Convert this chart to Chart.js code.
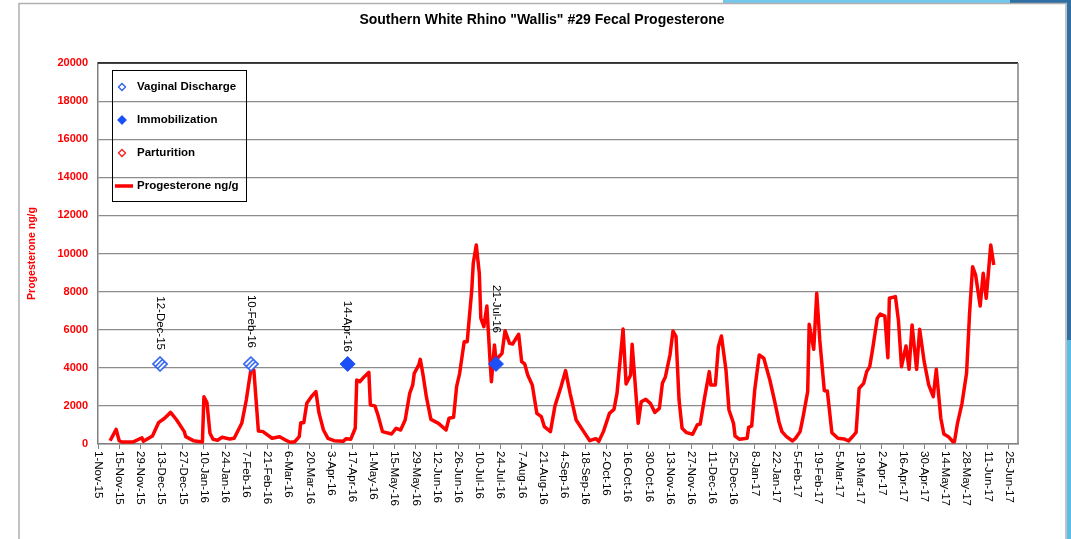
<!DOCTYPE html>
<html>
<head>
<meta charset="utf-8">
<script src="https://cdn.jsdelivr.net/npm/chart.js@4/dist/chart.umd.min.js"></script>
<style>
  body { margin: 0; background: #fff; }
  canvas { display: block; }
</style>
</head>
<body>
<canvas id="rhino" width="1071" height="539"></canvas>
<script>
// days counted from 1-Nov-15
const sampleDay = [
  8, 12, 14, 16, 23, 29, 30, 36, 40, 44, 48, 52, 57, 58, 63, 69, 70, 72, 74, 76,
  79, 82, 87, 90, 95, 98, 101, 103, 106, 109, 115, 120, 123, 127, 130, 133, 134, 136, 138, 141,
  144, 146, 149, 152, 156, 162, 164, 167, 170, 171, 173, 176, 179, 180, 183, 185, 188, 194, 197, 200,
  203, 206, 208, 209, 212, 213, 215, 217, 220, 225, 230, 232, 235, 237, 239, 242, 244, 247, 248, 250,
  252, 253, 255, 257, 259, 260, 262, 263, 267, 269, 272, 274, 278, 280, 282, 284, 287, 290, 293, 295,
  299, 302, 306, 309, 312, 316, 321, 325, 329, 331, 334, 338, 341, 343, 347, 349, 352, 353, 357, 359,
  362, 365, 368, 371, 373, 375, 378, 380, 382, 384, 386, 389, 393, 396, 398, 401, 404, 405, 408, 410,
  412, 415, 417, 420, 421, 424, 429, 430, 432, 434, 437, 440, 444, 447, 450, 452, 455, 459, 461, 464,
  466, 469, 470, 473, 475, 477, 480, 482, 485, 489, 493, 496, 499, 501, 503, 506, 508, 510, 512, 515,
  517, 520, 522, 523, 527, 529, 531, 534, 536, 538, 541, 543, 546, 549, 552, 554, 557, 559, 562, 565,
  566, 568, 571, 574, 576, 578, 580, 583, 585, 587, 590, 592
];
const progesterone = [
  170, 770, 170, 100, 100, 330, 140, 420, 1120, 1350, 1660, 1260, 650, 385, 175, 100, 2480, 2170, 560, 245,
  200, 350, 265, 300, 1085, 2310, 3880, 3880, 680, 650, 300, 385, 245, 90, 120, 385, 1120, 1120, 2135, 2485,
  2750, 1645, 735, 300, 175, 140, 280, 245, 825, 3360, 3270, 3535, 3760, 2050, 2000, 1520, 650, 525, 825, 735,
  1260, 2660, 3100, 3710, 4150, 4445, 3535, 2485, 1295, 1085, 735, 1350, 1400, 3010, 3710, 5370, 5370, 8085, 9485, 10450,
  8960, 6600, 6160, 7245, 4500, 3270, 5200, 4410, 4760, 5950, 5285, 5250, 5760, 4320, 4200, 3620, 3100, 1610, 1435, 910,
  650, 2000, 3010, 3850, 2660, 1260, 650, 175, 280, 140, 650, 1610, 1820, 2660, 6035, 3150, 3620, 5230, 1085, 2220,
  2345, 2135, 1660, 1870, 3185, 3535, 4670, 5930, 5635, 2310, 825, 595, 510, 1000, 1050, 2485, 3800, 3100, 3100, 5110,
  5670, 3885, 1785, 1085, 420, 245, 300, 875, 945, 2835, 4670, 4500, 3360, 2310, 1170, 650, 385, 160, 300, 650,
  1435, 2750, 6280, 4970, 7910, 5460, 2800, 2780, 595, 300, 265, 160, 420, 610, 2920, 3185, 3800, 4060, 5020, 6600,
  6825, 6720, 4530, 7650, 7735, 6475, 4060, 5145, 3920, 6250, 3920, 6020, 4320, 3100, 2485, 3920, 1350, 525, 385, 120,
  120, 1085, 2135, 3710, 6860, 9310, 8870, 7245, 8960, 7650, 10450, 9400
];

const vaginalDischargeDay = [41, 101];    // 12-Dec-15, 10-Feb-16
const vaginalDischargeLevel = [4200, 4200];
const immobilizationDay = [165, 263];     // 14-Apr-16, 21-Jul-16
const immobilizationLevel = [4200, 4200];
const parturitionDay = [];
const parturitionLevel = [];

const xMin = 0, xMax = 608, xStep = 14;
const yMin = 0, yMax = 20000, yStep = 2000;

const chartTitle = 'Southern White Rhino "Wallis" #29 Fecal Progesterone';
const yTitle = 'Progesterone ng/g';
const legendNames = ['Vaginal Discharge', 'Immobilization', 'Parturition', 'Progesterone ng/g'];
const months = ['Jan','Feb','Mar','Apr','May','Jun','Jul','Aug','Sep','Oct','Nov','Dec'];

function dayLabel(d) {
  const dt = new Date(Date.UTC(2015, 10, 1 + d));
  return dt.getUTCDate() + '-' + months[dt.getUTCMonth()] + '-' + String(dt.getUTCFullYear()).slice(2);
}

const pts = (xs, ys) => xs.map((x, i) => ({x: x, y: ys[i]}));

// hatched hollow diamond used for the vaginal discharge marks
function hatchedDiamond(r) {
  const c = document.createElement('canvas');
  c.width = c.height = 2 * r + 2;
  const g = c.getContext('2d');
  const m = r + 1;
  const path = () => {
    g.beginPath();
    g.moveTo(m, 1); g.lineTo(2 * r + 1, m); g.lineTo(m, 2 * r + 1); g.lineTo(1, m); g.closePath();
  };
  path();
  g.fillStyle = '#fff';
  g.fill();
  g.save();
  g.clip();
  g.strokeStyle = '#2f62f0';
  g.lineWidth = 1.6;
  [-2.2, 2.2].forEach(o => {
    g.beginPath();
    g.moveTo(m + o + 6, m - 6);
    g.lineTo(m + o - 6, m + 6);
    g.stroke();
  });
  g.restore();
  path();
  g.strokeStyle = '#2f62f0';
  g.lineWidth = 1.6;
  g.stroke();
  return c;
}

const FONT = "'Liberation Sans', Arial, sans-serif";

const decorPlugin = {
  id: 'decor',
  beforeDraw(chart) {
    const c = chart.ctx;
    c.save();
    // slide background bits at the top right
    c.fillStyle = '#74c8ec';
    c.fillRect(723, 0, 290, 3);
    c.fillStyle = '#2f6fa3';
    c.fillRect(1010, 0, 61, 3);
    c.fillRect(1067, 0, 4, 539);
    c.fillStyle = '#5cbde6';
    c.fillRect(1067, 340, 4, 199);
    // chart frame
    c.strokeStyle = '#b0b0b0';
    c.lineWidth = 1.5;
    c.strokeRect(19, 3.5, 1047, 560);
    c.restore();
  },
  beforeDatasetsDraw(chart) {
    const c = chart.ctx, a = chart.chartArea;
    c.save();
    c.lineWidth = 1.5;
    c.strokeStyle = '#111';
    c.beginPath();
    c.moveTo(a.left, a.top); c.lineTo(a.right, a.top);
    c.stroke();
    c.strokeStyle = '#808080';
    c.beginPath();
    c.moveTo(a.right, a.top); c.lineTo(a.right, a.bottom);
    c.stroke();
    c.restore();
  },
  afterDraw(chart) {
    const c = chart.ctx, a = chart.chartArea;
    const xs = chart.scales.x, ys = chart.scales.y;
    c.save();
    // title
    c.fillStyle = '#000';
    c.font = 'bold 14px ' + FONT;
    c.textAlign = 'center';
    c.textBaseline = 'middle';
    c.fillText(chartTitle, 542, 20);

    // x tick labels, read top to bottom
    c.font = '11.5px ' + FONT;
    c.textAlign = 'left';
    xs.ticks.forEach(t => {
      c.save();
      c.translate(xs.getPixelForValue(t.value), a.bottom + 7);
      c.rotate(Math.PI / 2);
      c.fillText(dayLabel(t.value), 0, 0);
      c.restore();
    });

    // date labels above the event marks
    c.font = '11.5px ' + FONT;
    c.textAlign = 'right';
    const lifts = [[14, 16], [12, 31]];
    [[vaginalDischargeDay, vaginalDischargeLevel], [immobilizationDay, immobilizationLevel]].forEach((s, k) => {
      s[0].forEach((d, i) => {
        c.save();
        c.translate(xs.getPixelForValue(d), ys.getPixelForValue(s[1][i]) - lifts[k][i]);
        c.rotate(Math.PI / 2);
        c.fillText(dayLabel(d), 0, 0);
        c.restore();
      });
    });

    // legend box
    c.strokeStyle = '#000';
    c.lineWidth = 1;
    c.strokeRect(112.5, 70.5, 134, 131);
    const rows = [87, 120, 153, 186];
    c.font = 'bold 11.5px ' + FONT;
    c.textAlign = 'left';
    c.fillStyle = '#000';
    legendNames.forEach((n, i) => c.fillText(n, 137, rows[i]));
    const diamond = (x, y, r, fill, stroke) => {
      c.beginPath();
      c.moveTo(x, y - r); c.lineTo(x + r, y); c.lineTo(x, y + r); c.lineTo(x - r, y); c.closePath();
      c.fillStyle = fill; c.fill();
      c.strokeStyle = stroke; c.lineWidth = 1.3; c.stroke();
    };
    diamond(122, rows[0], 3.5, '#fff', '#2b5cf0');
    diamond(122, rows[1], 4, '#1c4ff5', '#1c4ff5');
    diamond(122, rows[2], 3.5, '#fff', '#ff1a1a');
    c.strokeStyle = '#ff0000';
    c.lineWidth = 3.5;
    c.beginPath();
    c.moveTo(115, rows[3]); c.lineTo(133, rows[3]);
    c.stroke();
    c.restore();
  }
};

new Chart(document.getElementById('rhino'), {
  type: 'scatter',
  data: {
    datasets: [
      {
        label: legendNames[0],
        data: pts(vaginalDischargeDay, vaginalDischargeLevel),
        pointStyle: hatchedDiamond(7),
        pointRadius: 7
      },
      {
        label: legendNames[1],
        data: pts(immobilizationDay, immobilizationLevel),
        pointStyle: 'rectRot',
        pointRadius: 7.5,
        backgroundColor: '#1c4ff5',
        borderColor: '#1c4ff5',
        borderWidth: 1
      },
      {
        label: legendNames[2],
        data: pts(parturitionDay, parturitionLevel),
        pointStyle: 'rectRot',
        pointRadius: 6,
        backgroundColor: '#fff',
        borderColor: '#ff1a1a'
      },
      {
        label: legendNames[3],
        data: pts(sampleDay, progesterone),
        showLine: true,
        borderColor: '#ff0000',
        backgroundColor: '#ff0000',
        borderWidth: 3.5,
        pointRadius: 0,
        tension: 0,
        borderJoinStyle: 'round'
      }
    ]
  },
  options: {
    responsive: false,
    animation: false,
    devicePixelRatio: 1,
    layout: {
      padding: {left: 19, top: 63, right: 53, bottom: 0}
    },
    scales: {
      x: {
        type: 'linear',
        min: xMin,
        max: xMax,
        afterFit: s => { s.height = 95; },
        ticks: {
          stepSize: xStep,
          includeBounds: false,
          display: false
        },
        grid: {
          drawOnChartArea: false,
          drawTicks: true,
          tickLength: 5,
          color: '#808080',
          lineWidth: 1
        },
        border: {color: '#808080', width: 1.5}
      },
      y: {
        min: yMin,
        max: yMax,
        afterFit: s => { s.width = 79; },
        ticks: {
          stepSize: yStep,
          color: '#ff0000',
          padding: 10,
          font: {family: FONT, size: 11, weight: 'bold'},
          callback: v => String(v)
        },
        grid: {
          color: '#8c8c8c',
          lineWidth: 1.2,
          drawTicks: false
        },
        border: {color: '#808080', width: 1.5},
        title: {
          display: true,
          text: yTitle,
          color: '#ff0000',
          padding: {top: 7, bottom: 0},
          font: {family: FONT, size: 10.5, weight: 'bold'}
        }
      }
    },
    plugins: {
      legend: {display: false},
      title: {display: false},
      tooltip: {enabled: false}
    }
  },
  plugins: [decorPlugin]
});
</script>
</body>
</html>
